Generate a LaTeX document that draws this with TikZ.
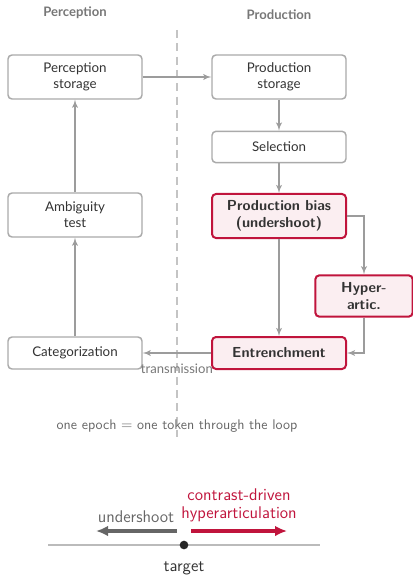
\documentclass[tikz,border=0pt]{standalone}
\usepackage{fontspec}
\setmainfont{Lato}
\usepackage{tikz}
\usetikzlibrary{arrows,arrows.meta}

\definecolor{biasred}{HTML}{C0143C}
\definecolor{biaspink}{HTML}{FBEEF1}
\definecolor{linegray}{HTML}{9C9C9C}
\definecolor{boxgray}{HTML}{AAAAAA}
\definecolor{inkgray}{HTML}{333333}
\definecolor{headgray}{HTML}{777777}

\begin{document}
\begin{tikzpicture}[->,>=latex',x=0.75pt,y=-0.75pt,line width=1.1pt,
                    draw=linegray,text=inkgray]
  \tikzstyle{every node}=[font=\fontsize{10}{12}\selectfont]
  \tikzstyle{header}=[font=\fontsize{9.8}{11}\selectfont\bfseries,text=headgray]
  \tikzstyle{stage}=[draw=boxgray,rounded corners=3pt,fill=white,align=center,
                     minimum width=100.5pt,minimum height=33pt]
  \tikzstyle{biased}=[stage,draw=biasred,fill=biaspink,line width=1.5pt,
                      font=\fontsize{10.9}{12.5}\selectfont\sffamily\bfseries]
  \tikzstyle{note}=[font=\fontsize{9.8}{11}\selectfont,text=headgray]
  \tikzstyle{axislabel}=[font=\fontsize{12.7}{13.5}\selectfont\sffamily,align=center]

  \useasboundingbox (0,0) rectangle (413,577);

  % column headers and divider
  \node[header] (hperc) at (75,13) {Perception};
  \node[header] (hprod) at (279,15) {Production};
  \coordinate (dtop) at (177,30);
  \coordinate (dbot) at (177,437);
  \draw[-,dashed,boxgray!70,dash pattern=on 6pt off 4pt] (dtop) -- (dbot);

  % the loop
  \node[stage] (pstore)   at (75,77)  {Perception\\storage};
  \node[stage] (prstore)  at (279,77) {Production\\storage};
  \node[stage,minimum height=23.5pt] (select) at (279,147) {Selection};
  \node[biased] (bias)    at (279,216) {Production bias\\(undershoot)};
  \node[stage] (ambig)    at (75,215) {Ambiguity\\test};
  \node[biased,minimum width=73pt,minimum height=31pt] (hyper) at (364,296) {Hyper-\\artic.};
  \node[biased,minimum height=24pt] (entrench) at (279,353) {Entrenchment};
  \node[stage,minimum height=24pt] (categ) at (75,353) {Categorization};

  \path (pstore)   edge (prstore)
        (prstore)  edge (select)
        (select)   edge (bias)
        (bias)     edge (entrench)
        (entrench) edge node[note,below,yshift=-4pt] {transmission} (categ)
        (categ)    edge (ambig)
        (ambig)    edge (pstore);
  \draw (bias.east) -| (hyper.north);
  \draw (hyper.south) |- (entrench.east);

  \node[note,font=\fontsize{10.5}{12}\selectfont\sffamily,text=black!60] (epoch) at (177,426)
    {one epoch $=$ one token through the loop};

  % bias axis
  \coordinate (axl) at (48,545);
  \coordinate (axr) at (320,545);
  \draw[-,line width=1.4pt,boxgray!80] (axl) -- (axr);
  \node[circle,fill=black!85,inner sep=0pt,minimum size=6.5pt] (target) at (184,545) {};
  \node[axislabel] (tlabel) at (184,568) {target};
  \coordinate (us0) at (177,531);
  \coordinate (us1) at (96,531);
  \coordinate (hy0) at (191,531);
  \coordinate (hy1) at (287,531);
  \draw[-{Latex[length=9pt,width=8pt]},line width=2.4pt,black!60] (us0) -- (us1);
  \draw[-{Latex[length=9pt,width=8pt]},line width=2.4pt,biasred] (hy0) -- (hy1);
  \node[axislabel,text=black!60] (ulabel) at (136,517) {undershoot};
  \node[axislabel,text=biasred] (hlabel) at (239,505)
    {contrast-driven\\hyperarticulation};
\end{tikzpicture}
\end{document}
